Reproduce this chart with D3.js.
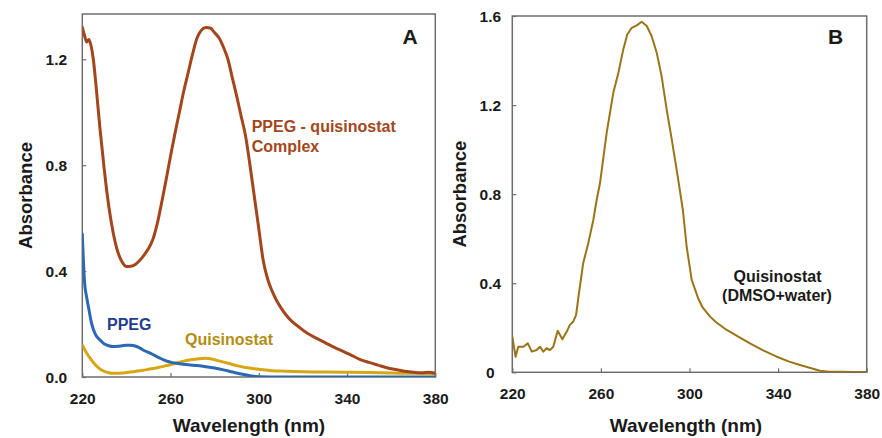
<!DOCTYPE html>
<html>
<head>
<meta charset="utf-8">
<script src="https://cdn.jsdelivr.net/npm/d3@7"></script>
<style>
  html, body { margin: 0; padding: 0; background: #fff; }
  svg { display: block; font-family: "Liberation Sans", Arial, sans-serif; }
</style>
</head>
<body>
<svg id="chart" width="882" height="438"></svg>
<script>
// ---------- Data ----------
// Panel A: PPEG - quisinostat complex
const complexWl = [220,221,222,223,224,225,226,227,228,230,232,234,236,238,240,242,244,246,248,250,252,254,256,258,260,262,264,266,268,270,272,274,276,278,280,282,284,286,288,290,292,294,296,298,300,302,304,306,308,310,312,315,318,322,326,330,334,338,342,346,350,354,358,362,366,370,374,377,380];
const complexAbs = [1.32,1.29,1.265,1.275,1.25,1.20,1.12,1.03,0.94,0.78,0.645,0.545,0.475,0.435,0.417,0.418,0.425,0.44,0.46,0.485,0.52,0.58,0.66,0.745,0.835,0.92,1.00,1.08,1.15,1.22,1.28,1.31,1.32,1.318,1.30,1.28,1.245,1.20,1.13,1.06,0.985,0.91,0.80,0.68,0.56,0.44,0.37,0.325,0.29,0.262,0.238,0.21,0.19,0.165,0.147,0.130,0.113,0.098,0.082,0.066,0.055,0.045,0.035,0.028,0.022,0.018,0.016,0.018,0.014];

// Panel A: PPEG
const ppegWl = [220,221,222,223,224,225,226,227,228,230,232,234,236,238,240,242,244,246,248,250,252,254,256,258,260,264,268,272,276,280,284,288,292,296,300,310,340,380];
const ppegAbs = [0.54,0.36,0.30,0.255,0.21,0.18,0.16,0.148,0.14,0.125,0.118,0.115,0.116,0.118,0.12,0.12,0.117,0.11,0.10,0.093,0.085,0.076,0.068,0.061,0.056,0.05,0.046,0.043,0.039,0.034,0.027,0.019,0.011,0.005,0.001,0,0,0];

// Panel A: Quisinostat
const quisWl = [220,222,224,226,228,230,232,234,236,238,240,242,244,246,248,250,254,258,262,266,270,274,276,278,280,282,286,290,294,298,302,306,312,320,330,340,350,360,370,380];
const quisAbs = [0.12,0.09,0.066,0.045,0.03,0.021,0.016,0.014,0.014,0.015,0.017,0.019,0.021,0.024,0.026,0.029,0.035,0.043,0.051,0.06,0.066,0.07,0.071,0.069,0.065,0.061,0.052,0.043,0.036,0.031,0.027,0.024,0.022,0.02,0.019,0.018,0.017,0.015,0.014,0.012];

// Panel B: Quisinostat (DMSO+water)
const dmsoWl = [220,221.5,222.7,225,227,228.8,231,232.5,234,235.5,237,238.5,240.5,242.6,244.6,246,247.5,248.8,250.1,252,254.3,256.6,258.1,259.6,262.6,265.6,267.9,270.1,271.9,273.9,276.2,278.4,280.7,282.9,285.2,287.4,289.7,292,294.2,297,298.7,301,304,306,309.3,312,316.8,322,327.3,333,339.4,345,349.9,355,358.9,363,368,374,380];
const dmsoAbs = [0.16,0.07,0.115,0.115,0.13,0.093,0.10,0.115,0.093,0.108,0.10,0.115,0.187,0.148,0.183,0.213,0.228,0.258,0.355,0.49,0.58,0.685,0.775,0.85,1.075,1.255,1.345,1.45,1.517,1.547,1.558,1.574,1.555,1.51,1.435,1.33,1.18,1.045,0.91,0.73,0.565,0.415,0.33,0.29,0.25,0.225,0.19,0.16,0.13,0.10,0.07,0.048,0.033,0.018,0.007,0.003,0.002,0.001,0.001];

// Tick labels
const xTicks = [220,260,300,340,380];
const yTicksA = [0,0.4,0.8,1.2];
const yTickLabelsA = ["0.0","0.4","0.8","1.2"];
const yTicksB = [0,0.4,0.8,1.2,1.6];
const yTickLabelsB = ["0","0.4","0.8","1.2","1.6"];

// ---------- Drawing ----------
const svg = d3.select("#chart");
const textColor = "#1a1a1a";
const boxColor = "#6e6e6e";

function panel(cfg) {
  const g = svg.append("g");
  const x = d3.scaleLinear().domain([220,380]).range([cfg.left, cfg.right]);
  const y = d3.scaleLinear().domain([0, cfg.yMax]).range([cfg.bottom, cfg.top]);

  // x axis ticks (inward) + labels
  const xa = g.append("g").attr("transform", `translate(0,${cfg.bottom})`)
    .call(d3.axisBottom(x).tickValues(xTicks).tickSize(-4).tickFormat(d3.format("d")));
  xa.select(".domain").remove();
  xa.selectAll("line").attr("stroke", boxColor).attr("stroke-width", 1.2);
  xa.selectAll("text").attr("y", 27).attr("dy", 0)
    .attr("fill", textColor).attr("font-size", 15.5).attr("font-weight", "bold")
    .attr("font-family", "Liberation Sans, Arial, sans-serif");

  // y axis ticks (inward) + labels
  const ya = g.append("g").attr("transform", `translate(${cfg.left},0)`)
    .call(d3.axisLeft(y).tickValues(cfg.yTicks).tickSize(-4)
      .tickFormat((d,i) => cfg.yLabels[i]));
  ya.select(".domain").remove();
  ya.selectAll("line").attr("stroke", boxColor).attr("stroke-width", 1.2);
  ya.selectAll("text").attr("x", cfg.yLabelX).attr("dy", "0.36em")
    .attr("text-anchor", "middle")
    .attr("fill", textColor).attr("font-size", 15.5).attr("font-weight", "bold")
    .attr("font-family", "Liberation Sans, Arial, sans-serif");

  // frame
  g.append("rect").attr("x", cfg.left).attr("y", cfg.top)
    .attr("width", cfg.right - cfg.left).attr("height", cfg.bottom - cfg.top)
    .attr("fill", "none").attr("stroke", boxColor).attr("stroke-width", 1.5);

  // axis titles
  g.append("text").attr("x", cfg.xTitleX).attr("y", cfg.xTitleY)
    .attr("text-anchor", "middle").attr("font-size", 19).attr("font-weight", "bold")
    .attr("fill", textColor).text("Wavelength (nm)");
  g.append("text").attr("transform", `translate(${cfg.yTitleX},${(cfg.top+cfg.bottom)/2}) rotate(-90)`)
    .attr("text-anchor", "middle").attr("font-size", 18.5).attr("font-weight", "bold")
    .attr("fill", textColor).text("Absorbance");

  // panel letter
  g.append("text").attr("x", cfg.letterX).attr("y", 43.5)
    .attr("text-anchor", "middle").attr("font-size", 21).attr("font-weight", "bold")
    .attr("fill", textColor).text(cfg.letter);

  // curves
  const clipId = "clip" + cfg.letter;
  svg.append("defs").append("clipPath").attr("id", clipId).append("rect")
    .attr("x", cfg.left).attr("y", cfg.top - 2).attr("width", cfg.right - cfg.left).attr("height", cfg.bottom - cfg.top + 2);
  const cg = g.append("g").attr("clip-path", `url(#${clipId})`);
  cfg.series.forEach(s => {
    const pts = s.wl.map((w,i) => [w, s.abs[i]]);
    const line = d3.line().x(d => x(d[0])).y(d => y(d[1])).curve(s.curve);
    cg.append("path").datum(pts).attr("d", line)
      .attr("fill", "none").attr("stroke", s.color).attr("stroke-width", s.width)
      .attr("stroke-linejoin", "round").attr("stroke-linecap", "round");
  });

  // annotations
  cfg.labels.forEach(l => {
    g.append("text").attr("x", l.x).attr("y", l.y).attr("text-anchor", l.anchor || "start")
      .attr("font-size", 16).attr("font-weight", "bold").attr("fill", l.color).text(l.text);
  });
}

const cA = "#a3461b", cP = "#2c68b3", cQ = "#d6a614", cB = "#9a7415";

panel({
  letter: "A", letterX: 410,
  left: 82.3, right: 435.3, top: 14, bottom: 377, yMax: 1.371,
  yTicks: yTicksA, yLabels: yTickLabelsA, yLabelX: -26,
  xTitleX: 249, xTitleY: 431.5, yTitleX: 32,
  series: [
    {wl: quisWl, abs: quisAbs, color: cQ, width: 3, curve: d3.curveMonotoneX},
    {wl: ppegWl, abs: ppegAbs, color: cP, width: 3, curve: d3.curveMonotoneX},
    {wl: complexWl, abs: complexAbs, color: cA, width: 3, curve: d3.curveMonotoneX}
  ],
  labels: [
    {text: "PPEG - quisinostat", x: 251.7, y: 131.7, color: cA},
    {text: "Complex", x: 251.7, y: 151.7, color: cA},
    {text: "PPEG", x: 107, y: 330, color: "#1f3d8c"},
    {text: "Quisinostat", x: 185, y: 345, color: "#b38d12"}
  ]
});

panel({
  letter: "B", letterX: 835.5,
  left: 512.3, right: 866.7, top: 16, bottom: 372.3, yMax: 1.6,
  yTicks: yTicksB, yLabels: yTickLabelsB, yLabelX: -22,
  xTitleX: 686, xTitleY: 432, yTitleX: 466,
  series: [
    {wl: dmsoWl, abs: dmsoAbs, color: cB, width: 2, curve: d3.curveLinear}
  ],
  labels: [
    {text: "Quisinostat", x: 777.5, y: 281.7, color: textColor, anchor: "middle"},
    {text: "(DMSO+water)", x: 777, y: 300.5, color: textColor, anchor: "middle"}
  ]
});
</script>
</body>
</html>
